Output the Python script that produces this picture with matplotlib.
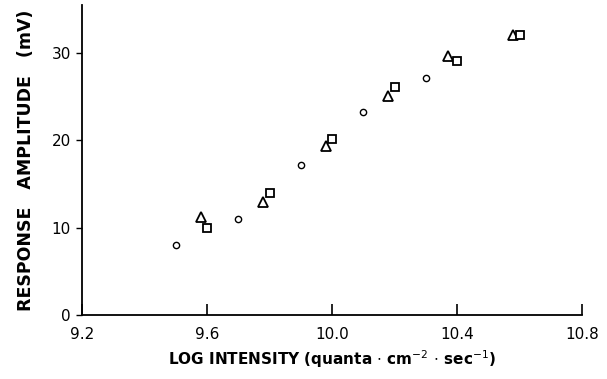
import matplotlib
matplotlib.use("Agg")
import matplotlib.pyplot as plt

# data
circ_x = [9.50, 9.70, 9.90, 10.10, 10.30]
circ_y = [8.0, 11.0, 17.2, 23.2, 27.1]
tri_x = [9.58, 9.78, 9.98, 10.18, 10.37, 10.58]
tri_y = [11.2, 12.9, 19.3, 25.1, 29.6, 32.0]
sq_x = [9.60, 9.80, 10.00, 10.20, 10.40, 10.60]
sq_y = [10.0, 14.0, 20.2, 26.1, 29.1, 32.0]

xticks = [9.2, 9.6, 10.0, 10.4, 10.8]
xticklabels = ["9.2", "9.6", "10.0", "10.4", "10.8"]
yticks = [0, 10, 20, 30]

fig = plt.figure(figsize=(6.07, 3.79), dpi=100)
ax = fig.add_axes([0.135, 0.169, 0.824, 0.818])

ax.plot(circ_x, circ_y, linestyle='none', marker='o', markersize=4.5,
        markerfacecolor='white', markeredgecolor='black', markeredgewidth=1.0)
ax.plot(tri_x, tri_y, linestyle='none', marker='^', markersize=6.5,
        markerfacecolor='white', markeredgecolor='black', markeredgewidth=1.3)
ax.plot(sq_x, sq_y, linestyle='none', marker='s', markersize=5.5,
        markerfacecolor='white', markeredgecolor='black', markeredgewidth=1.3)

ax.set_xlim(9.2, 10.8)
ax.set_ylim(0, 35.5)

ax.spines['top'].set_visible(False)
ax.spines['right'].set_visible(False)
ax.spines['left'].set_linewidth(1.3)
ax.spines['bottom'].set_linewidth(1.3)

ax.set_xticks(xticks)
ax.set_xticklabels(xticklabels)
ax.set_yticks(yticks)
ax.tick_params(axis='x', direction='in', length=8, width=1.2, labelsize=11, pad=9)
ax.tick_params(axis='y', direction='out', length=4, width=1.0, labelsize=11, pad=4)

ax.set_xlabel(r"LOG INTENSITY (quanta $\cdot$ cm$^{-2}$ $\cdot$ sec$^{-1}$)",
              fontsize=11, fontweight='bold', labelpad=4)
ax.set_ylabel("RESPONSE   AMPLITUDE   (mV)", fontsize=12.5,
              fontweight='bold', labelpad=12)

fig.savefig("out.png", dpi=100)
